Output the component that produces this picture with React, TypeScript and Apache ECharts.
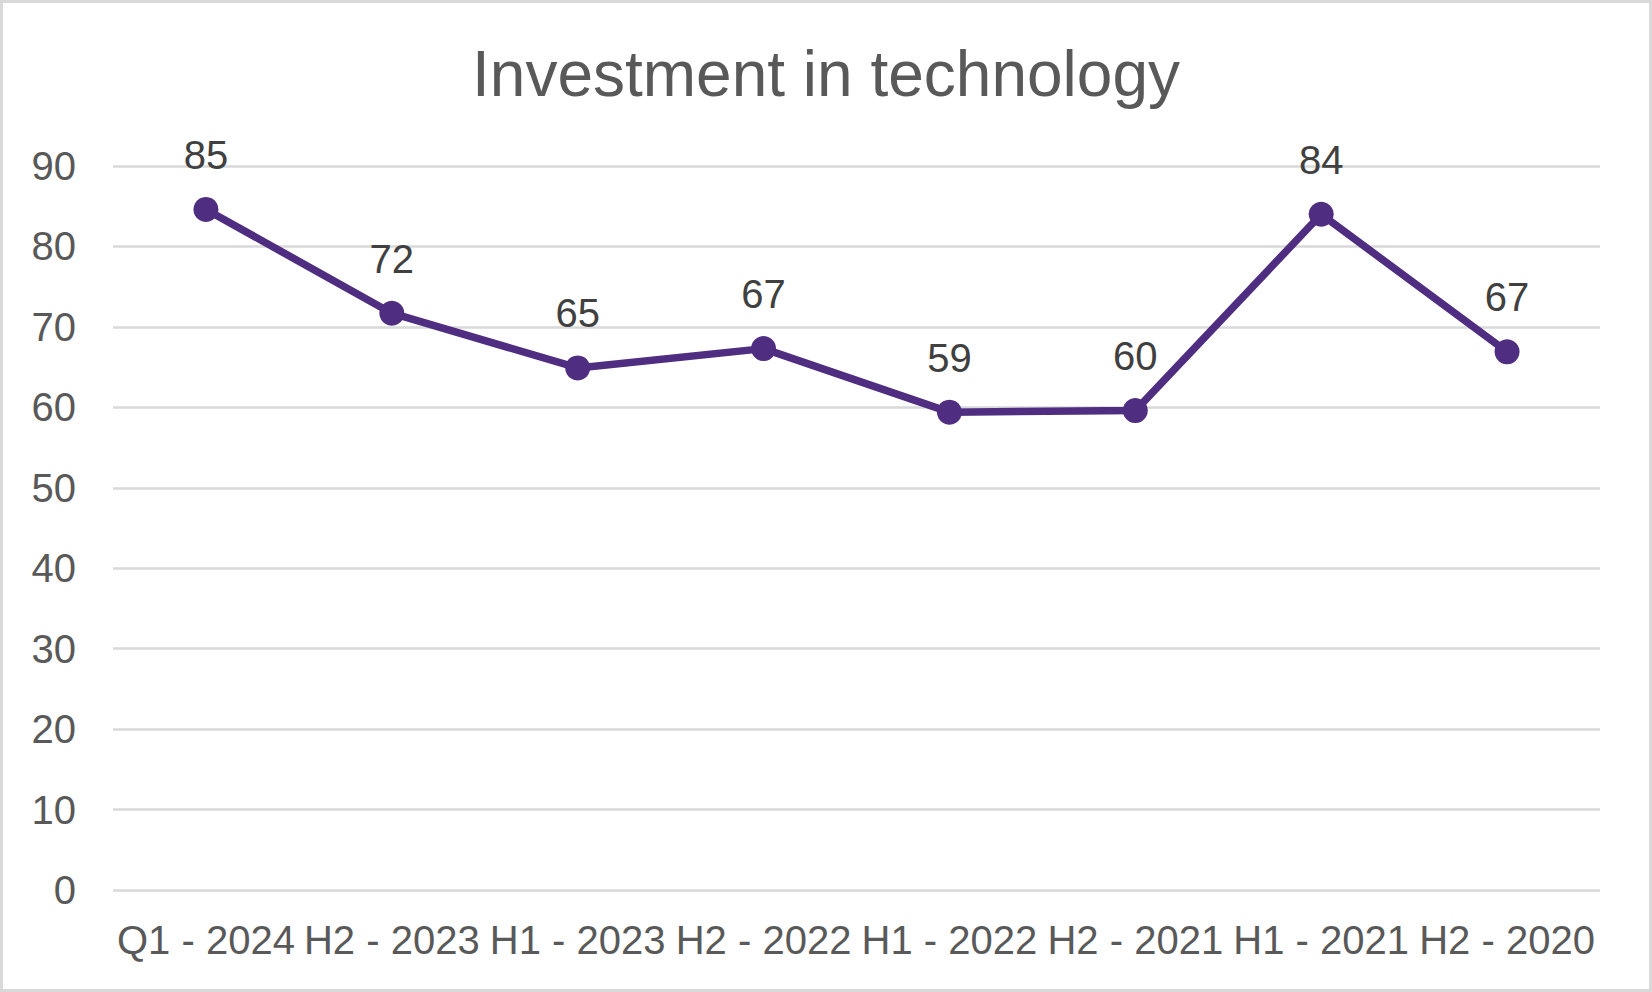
import React, { useEffect, useRef } from "react";
import * as echarts from "echarts";

const categories = ["Q1 - 2024", "H2 - 2023", "H1 - 2023", "H2 - 2022", "H1 - 2022", "H2 - 2021", "H1 - 2021", "H2 - 2020"];
const investment = [84.6, 71.7, 64.9, 67.3, 59.4, 59.6, 84.0, 66.9];
const titleText = "Investment in technology";

export default function App() {
  const ref = useRef<HTMLDivElement>(null);
  useEffect(() => {
    document.body.style.margin = "0";
    const chart = echarts.init(ref.current!, null, { renderer: "svg" });
    const font = "'Liberation Sans', Arial, sans-serif";
    chart.setOption({
      animation: false,
      backgroundColor: "#ffffff",
      title: {
        text: titleText,
        left: "center",
        top: 37,
        textStyle: { fontFamily: font, fontSize: 64, fontWeight: "normal", color: "#595959" },
      },
      grid: { left: 113, right: 52, top: 166, bottom: 102, containLabel: false },
      xAxis: {
        type: "category",
        data: categories,
        boundaryGap: true,
        axisLine: { show: false },
        axisTick: { show: false },
        axisLabel: { fontFamily: font, fontSize: 40, color: "#595959", margin: 30, interval: 0 },
      },
      yAxis: {
        type: "value",
        min: 0,
        max: 90,
        interval: 10,
        axisLine: { show: false },
        axisTick: { show: false },
        splitLine: { lineStyle: { color: "#d9d9d9", width: 2.5 } },
        axisLabel: { fontFamily: font, fontSize: 40, color: "#595959", margin: 37 },
      },
      series: [
        {
          type: "line",
          data: investment,
          symbol: "circle",
          symbolSize: 25,
          lineStyle: { color: "#4f2d80", width: 7.5 },
          itemStyle: { color: "#4f2d80" },
          label: {
            show: true,
            position: "top",
            distance: 22,
            fontFamily: font,
            fontSize: 40,
            color: "#404040",
            formatter: (p: any) => String(Math.round(p.value)),
          },
        },
      ],
      graphic: [
        {
          type: "rect",
          shape: { x: 1.5, y: 1.5, width: 1649, height: 989 },
          style: { fill: "none", stroke: "#d9d9d9", lineWidth: 3 },
          silent: true,
        },
      ],
    });
    return () => chart.dispose();
  }, []);
  return <div ref={ref} style={{ width: 1652, height: 992 }} />;
}
